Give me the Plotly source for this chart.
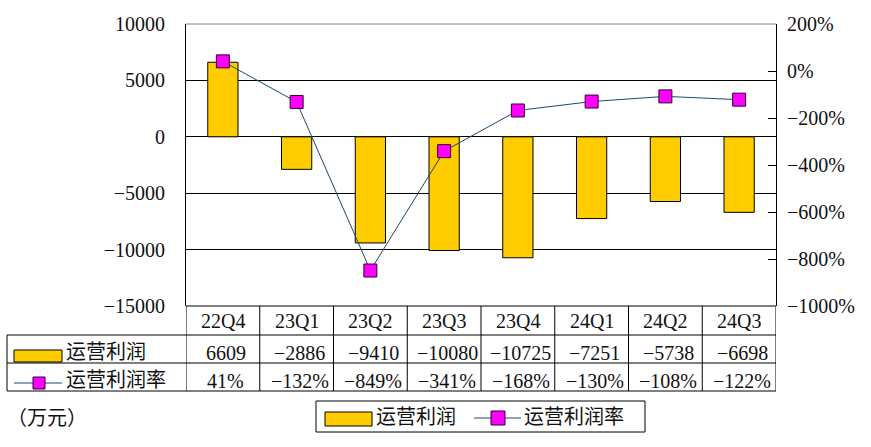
import plotly.graph_objects as go

categories = ["22Q4", "23Q1", "23Q2", "23Q3", "23Q4", "24Q1", "24Q2", "24Q3"]
profit = [6609, -2886, -9410, -10080, -10725, -7251, -5738, -6698]
profit_rate = [41, -132, -849, -341, -168, -130, -108, -122]
left_ticks = [-15000, -10000, -5000, 0, 5000, 10000]
name_profit = "运营利润"
name_rate = "运营利润率"
unit_label = "（万元）"

FONT = "'Liberation Serif', 'Noto Sans CJK SC', serif"
W, H = 871, 447
L, R, T, B = 186, 95, 24, 141
PW, PH = W - L - R, H - T - B


def px(x):
    return (x - L) / PW


def py(y):
    return (H - B - y) / PH


def fmt(v, suffix=""):
    s = f"{v}{suffix}"
    return s.replace("-", "\u2212")


fig = go.Figure()
fig.add_trace(go.Bar(
    x=categories, y=profit, name=name_profit, width=0.41,
    marker=dict(color="#FFCC00", line=dict(color="#000000", width=1)),
    yaxis="y",
))
fig.add_trace(go.Scatter(
    x=categories, y=profit_rate, name=name_rate, mode="lines+markers",
    line=dict(color="#1A4A6A", width=1),
    marker=dict(symbol="square", size=13, color="#FF00FF",
                line=dict(color="#330033", width=1)),
    yaxis="y2",
))

shapes = []
ann = []
n = len(categories)
for k in range(n + 1):
    shapes.append(dict(type="line", xref="x", yref="paper", x0=k - 0.5, x1=k - 0.5,
                       y0=0, y1=py(391), line=dict(color="black", width=1)))
for yy in [335, 363, 391]:
    shapes.append(dict(type="line", xref="paper", yref="paper", x0=px(7), x1=1,
                       y0=py(yy), y1=py(yy), line=dict(color="black", width=1)))
shapes.append(dict(type="line", xref="paper", yref="paper", x0=px(7), x1=px(7),
                   y0=py(335), y1=py(391), line=dict(color="black", width=1)))
shapes.append(dict(type="line", xref="paper", yref="paper", x0=0, x1=1, y0=1, y1=1,
                   line=dict(color="#808080", width=1)))
shapes.append(dict(type="line", xref="paper", yref="paper", x0=0, x1=1, y0=0, y1=0,
                   line=dict(color="black", width=1)))

shapes.append(dict(type="rect", xref="paper", yref="paper", x0=px(14), x1=px(62),
                   y0=py(362), y1=py(350), fillcolor="#FFCC00",
                   line=dict(color="black", width=1)))
shapes.append(dict(type="line", xref="paper", yref="paper", x0=px(14), x1=px(62),
                   y0=py(383), y1=py(383), line=dict(color="#1A4A6A", width=1)))
shapes.append(dict(type="rect", xref="paper", yref="paper", x0=px(33), x1=px(45),
                   y0=py(389), y1=py(377), fillcolor="#FF00FF",
                   line=dict(color="#330033", width=1)))

shapes.append(dict(type="rect", xref="paper", yref="paper", x0=px(316), x1=px(645),
                   y0=py(432), y1=py(401), fillcolor="white",
                   line=dict(color="black", width=1)))
shapes.append(dict(type="rect", xref="paper", yref="paper", x0=px(325), x1=px(372),
                   y0=py(426), y1=py(412), fillcolor="#FFCC00",
                   line=dict(color="black", width=1)))
shapes.append(dict(type="line", xref="paper", yref="paper", x0=px(474), x1=px(521),
                   y0=py(418), y1=py(418), line=dict(color="#1A4A6A", width=1)))
shapes.append(dict(type="rect", xref="paper", yref="paper", x0=px(491), x1=px(505),
                   y0=py(425), y1=py(411), fillcolor="#FF00FF",
                   line=dict(color="#330033", width=1)))

tf = dict(family=FONT, size=20, color="#111111")
for c, p, r in zip(categories, profit, profit_rate):
    ann.append(dict(x=c, y=py(321), xref="x", yref="paper", text=c, showarrow=False,
                    font=tf, xanchor="center", yanchor="middle"))
    ann.append(dict(x=c, y=py(353), xref="x", yref="paper", text=fmt(p), showarrow=False,
                    font=tf, xanchor="center", yanchor="middle", xshift=3))
    ann.append(dict(x=c, y=py(381), xref="x", yref="paper", text=fmt(r, "%"), showarrow=False,
                    font=tf, xanchor="center", yanchor="middle", xshift=3))

ann.append(dict(x=px(64), y=py(352), xref="paper", yref="paper", text=name_profit,
                showarrow=False, font=tf, xanchor="left", yanchor="middle"))
ann.append(dict(x=px(64), y=py(380), xref="paper", yref="paper", text=name_rate,
                showarrow=False, font=tf, xanchor="left", yanchor="middle"))
ann.append(dict(x=px(374), y=py(417), xref="paper", yref="paper", text=name_profit,
                showarrow=False, font=tf, xanchor="left", yanchor="middle"))
ann.append(dict(x=px(522), y=py(417), xref="paper", yref="paper", text=name_rate,
                showarrow=False, font=tf, xanchor="left", yanchor="middle"))
ann.append(dict(x=px(5), y=py(418), xref="paper", yref="paper", text=unit_label,
                showarrow=False, font=tf, xanchor="left", yanchor="middle"))

fig.update_layout(
    width=W, height=H,
    margin=dict(l=L, r=R, t=T, b=B, pad=0),
    paper_bgcolor="white", plot_bgcolor="white",
    showlegend=False, bargap=0.59,
    font=tf,
    xaxis=dict(type="category", range=[-0.5, n - 0.5], showticklabels=False,
               showgrid=False, zeroline=False, showline=False, ticks=""),
    yaxis=dict(range=[-15000, 10000], tickvals=left_ticks, tickformat="d",
               showgrid=True, gridcolor="black", gridwidth=1,
               zeroline=True, zerolinecolor="black", zerolinewidth=1,
               showline=True, linecolor="black", linewidth=1,
               ticks="", ticklabelstandoff=16, tickfont=tf),
    yaxis2=dict(range=[-1000, 200], dtick=200, tick0=0, ticksuffix="%",
                overlaying="y", side="right", showgrid=False, zeroline=False,
                showline=True, linecolor="black", linewidth=1,
                ticks="inside", ticklen=8, tickcolor="black", tickwidth=1,
                ticklabelstandoff=6, tickfont=tf),
    shapes=shapes, annotations=ann,
)

fig.write_html("out.html")
